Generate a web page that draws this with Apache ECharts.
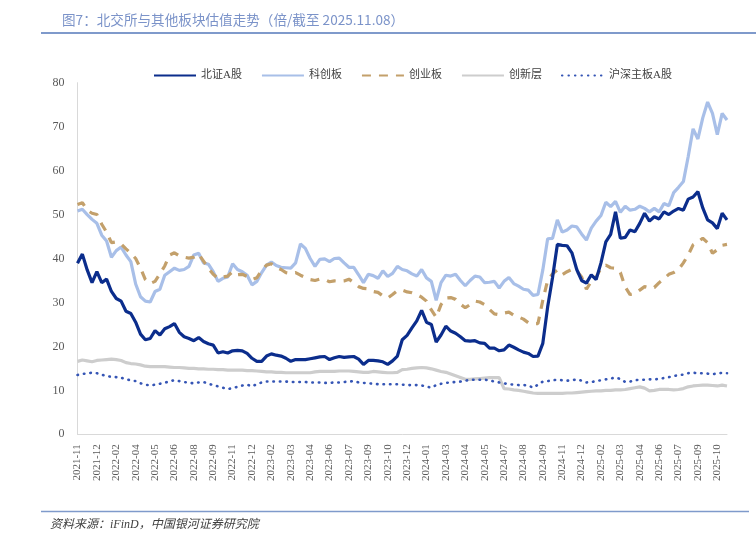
<!DOCTYPE html>
<html>
<head>
<meta charset="utf-8">
<script src="https://cdn.jsdelivr.net/npm/echarts@6/dist/echarts.min.js"></script>
<style>
html,body{margin:0;padding:0;background:#fff;}
#chart{width:756px;height:539px;}
</style>
</head>
<body>
<div id="chart"></div>
<script>
const tickLabels = ['2021-11','2021-12','2022-02','2022-04','2022-05','2022-06','2022-08','2022-09','2022-11','2022-12',
  '2023-02','2023-03','2023-04','2023-06','2023-07','2023-09','2023-10','2023-12','2024-01','2024-03',
  '2024-04','2024-05','2024-07','2024-08','2024-09','2024-11','2024-12','2025-02','2025-03','2025-04',
  '2025-06','2025-07','2025-09','2025-10'];
const stepsPerTick = 4;

const seriesNames = ['北证A股','科创板','创业板','创新层','沪深主板A股'];

const bse = [
38.9, 41.0, 37.4, 34.5, 37.0, 34.5, 35.3, 32.5, 30.9, 30.3,
28.0, 27.5, 25.5, 22.8, 21.5, 21.8, 23.6, 22.6, 24.0, 24.5,
25.2, 23.2, 22.2, 21.8, 21.3, 22.0, 21.1, 20.6, 20.3, 18.5,
18.8, 18.5, 19.0, 19.1, 19.0, 18.4, 17.3, 16.6, 16.6, 17.8,
18.3, 18.0, 17.8, 17.3, 16.6, 17.0, 17.0, 17.0, 17.2, 17.4,
17.6, 17.7, 17.0, 17.4, 17.7, 17.5, 17.6, 17.7, 17.1, 15.9,
16.8, 16.8, 16.7, 16.5, 15.9, 16.7, 17.8, 21.5, 22.5, 24.2,
25.8, 28.2, 25.5, 25.0, 21.0, 22.6, 24.6, 23.5, 23.0, 22.2,
21.3, 21.2, 21.3, 20.8, 20.7, 19.6, 19.6, 19.0, 19.2, 20.3,
19.8, 19.2, 18.7, 18.4, 17.7, 17.8, 20.7, 29.0, 35.6, 43.2,
43.0, 42.9, 41.3, 37.5, 35.0, 34.4, 36.3, 35.2, 39.0, 43.8,
45.5, 50.6, 44.6, 44.8, 46.5, 46.1, 48.0, 50.3, 48.5, 49.5,
49.0, 50.6, 50.0, 50.8, 51.4, 51.0, 53.5, 54.0, 55.2, 51.5,
48.8, 48.1, 46.8, 50.3, 48.8
];

const star = [
50.8, 51.2, 50.0, 48.9, 48.0, 45.3, 44.0, 40.3, 41.8, 42.6,
40.8, 39.3, 34.2, 31.3, 30.3, 30.1, 32.5, 33.0, 36.2, 37.0,
37.8, 37.3, 37.5, 38.2, 40.8, 41.2, 39.0, 38.7, 37.0, 34.8,
35.5, 35.8, 38.8, 37.5, 37.0, 36.2, 34.0, 34.8, 36.8, 38.5,
39.2, 38.4, 38.0, 37.9, 37.8, 39.0, 43.3, 42.3, 40.0, 38.2,
39.8, 39.9, 39.3, 40.0, 40.1, 39.0, 38.0, 38.0, 36.3, 34.5,
36.4, 36.1, 35.5, 37.2, 35.9, 36.6, 38.2, 37.5, 37.2, 36.5,
36.0, 37.5, 35.6, 34.8, 30.5, 34.5, 36.2, 36.0, 36.4, 35.0,
33.8, 35.0, 36.0, 35.8, 34.5, 34.6, 34.8, 33.3, 34.8, 35.7,
34.3, 33.7, 33.0, 32.8, 31.6, 31.8, 37.4, 44.5, 44.6, 48.8,
46.0, 46.5, 47.4, 47.2, 45.6, 44.2, 46.9, 48.5, 49.8, 52.8,
51.8, 53.0, 50.5, 51.9, 51.0, 51.2, 51.9, 51.4, 50.6, 51.4,
50.6, 52.5, 52.0, 55.0, 56.2, 57.5, 63.2, 69.5, 67.2, 72.0,
75.6, 73.0, 68.2, 73.0, 71.5
];

const gem = [
52.3, 52.7, 51.0, 50.3, 50.0, 47.8, 46.0, 43.6, 43.8, 43.3,
42.2, 41.2, 40.0, 37.8, 35.2, 34.3, 34.8, 36.5, 38.3, 40.8,
41.3, 40.6, 40.3, 40.1, 40.3, 41.0, 39.4, 37.8, 36.4, 35.5,
35.8, 36.0, 37.0, 36.3, 36.4, 35.9, 35.2, 35.6, 37.3, 38.5,
38.8, 38.0, 37.5, 36.8, 36.6, 36.8, 36.2, 35.7, 35.2, 35.0,
35.3, 35.2, 34.7, 34.9, 34.8, 34.9, 35.3, 34.5, 33.6, 33.2,
33.1, 32.5, 32.3, 31.5, 31.0, 31.8, 32.7, 32.8, 32.4, 32.2,
31.8, 31.2, 30.3, 28.3, 26.6, 29.5, 31.0, 31.1, 30.7, 29.6,
28.8, 29.5, 30.3, 30.1, 29.5, 28.4, 27.4, 27.2, 27.6, 27.8,
27.1, 26.7, 26.2, 25.4, 25.2, 25.2, 30.5, 35.0, 36.5, 37.4,
36.3, 37.0, 37.5, 37.2, 35.8, 33.0, 34.8, 35.8, 37.8, 38.5,
37.9, 37.8, 36.8, 33.5, 31.8, 32.0, 32.8, 33.6, 33.3, 33.4,
34.5, 35.4, 36.4, 36.8, 37.5, 39.0, 40.8, 43.1, 43.8, 44.6,
43.6, 41.2, 42.0, 43.0, 43.2
];

const neeq = [
16.6, 16.9, 16.7, 16.5, 16.8, 16.9, 17.0, 17.1, 17.0, 16.8,
16.3, 16.1, 16.0, 15.8, 15.5, 15.4, 15.4, 15.4, 15.4, 15.3,
15.2, 15.2, 15.1, 15.0, 15.0, 14.9, 14.9, 14.8, 14.8, 14.7,
14.7, 14.6, 14.6, 14.6, 14.6, 14.5, 14.5, 14.4, 14.3, 14.2,
14.2, 14.1, 14.1, 14.0, 14.0, 14.0, 14.0, 14.0, 14.0, 14.2,
14.3, 14.3, 14.3, 14.3, 14.4, 14.4, 14.4, 14.3, 14.2, 14.1,
14.1, 14.3, 14.2, 14.1, 14.0, 14.0, 14.1, 14.7, 14.8, 15.0,
15.1, 15.2, 15.1, 14.9, 14.6, 14.3, 14.1, 13.7, 13.3, 12.9,
12.5, 12.5, 12.6, 12.7, 12.8, 12.9, 12.9, 12.9, 10.4, 10.3,
10.1, 10.0, 9.8, 9.6, 9.4, 9.3, 9.3, 9.3, 9.3, 9.3,
9.3, 9.4, 9.4, 9.5, 9.6, 9.7, 9.8, 9.9, 9.9, 10.0,
10.0, 10.1, 10.1, 10.2, 10.4, 10.6, 10.8, 10.5, 9.9, 10.0,
10.2, 10.2, 10.2, 10.1, 10.2, 10.4, 10.8, 11.0, 11.1, 11.2,
11.2, 11.1, 11.0, 11.2, 11.0
];

const mainBoard = [
13.5, 13.7, 13.9, 14.0, 13.9, 13.6, 13.2, 13.1, 13.0, 12.9,
12.5, 12.3, 12.1, 11.6, 11.3, 11.1, 11.3, 11.5, 11.7, 12.1,
12.3, 12.1, 11.9, 11.7, 11.6, 11.8, 11.9, 11.5, 11.2, 10.9,
10.6, 10.3, 10.5, 10.8, 11.1, 11.3, 10.9, 11.4, 11.8, 12.0,
12.0, 12.0, 12.0, 12.0, 11.9, 11.9, 11.9, 11.9, 11.8, 11.8,
11.8, 11.7, 11.7, 11.8, 11.8, 11.9, 12.0, 12.1, 11.8, 11.7,
11.6, 11.5, 11.4, 11.4, 11.4, 11.4, 11.4, 11.3, 11.2, 11.2,
11.2, 11.1, 10.9, 10.6, 11.2, 11.5, 11.7, 11.8, 11.9, 12.0,
12.2, 12.4, 12.4, 12.4, 12.4, 12.3, 12.0, 11.8, 11.6, 11.4,
11.3, 11.2, 11.2, 11.1, 10.6, 11.3, 12.0, 12.1, 12.3, 12.4,
12.3, 12.2, 12.3, 12.5, 12.2, 11.8, 11.9, 12.1, 12.3, 12.5,
12.7, 12.9, 12.6, 11.9, 12.0, 12.3, 12.4, 12.4, 12.5, 12.5,
12.6, 12.8, 13.0, 13.3, 13.4, 13.6, 13.9, 14.0, 13.9, 13.9,
13.8, 13.7, 13.8, 14.0, 13.9
];

// category list built from the tick labels: each tick followed by sub-steps
const categories = bse.map((_, i) => tickLabels[Math.min(Math.floor(i / stepsPerTick), tickLabels.length - 1)] + '|' + (i % stepsPerTick));

const serifFont = "'Liberation Serif','Noto Sans CJK SC',serif";

const chart = echarts.init(document.getElementById('chart'), null, {renderer: 'canvas'});
chart.setOption({
  animation: false,
  backgroundColor: '#ffffff',
  grid: {left: 77.5, right: 29, top: 82.7, bottom: 104.7, containLabel: false, outerBoundsMode: 'none'},
  legend: {
    data: seriesNames,
    left: 153, top: 70, padding: 0,
    itemWidth: 42, itemHeight: 12, itemGap: 19,
    textStyle: {fontSize: 11, color: '#404040', fontFamily: serifFont},
    itemStyle: {opacity: 0}
  },
  xAxis: {
    type: 'category',
    data: categories,
    boundaryGap: false,
    axisLine: {show: true, lineStyle: {color: '#d9d9d9', width: 1}},
    axisTick: {show: false},
    splitLine: {show: false},
    axisLabel: {
      interval: stepsPerTick - 1,
      rotate: 90,
      margin: 10,
      fontSize: 11,
      color: '#595959',
      fontFamily: serifFont,
      formatter: v => v.split('|')[0]
    }
  },
  yAxis: {
    type: 'value',
    min: 0, max: 80, interval: 10,
    axisLine: {show: true, lineStyle: {color: '#d9d9d9', width: 1}},
    axisTick: {show: false},
    splitLine: {show: false},
    axisLabel: {fontSize: 12, color: '#595959', margin: 13, fontFamily: serifFont}
  },
  series: [
    {name: seriesNames[0], type: 'line', data: bse, symbol: 'none', z: 5,
     lineStyle: {color: '#0b2d8c', width: 3.2}, itemStyle: {color: '#0b2d8c'}},
    {name: seriesNames[1], type: 'line', data: star, symbol: 'none', z: 4,
     lineStyle: {color: '#a8bfe8', width: 3.2}, itemStyle: {color: '#a8bfe8'}},
    {name: seriesNames[2], type: 'line', data: gem, symbol: 'none', z: 4,
     lineStyle: {color: '#c3a06b', width: 3.2, type: [9, 8]}, itemStyle: {color: '#c3a06b'}},
    {name: seriesNames[3], type: 'line', data: neeq, symbol: 'none', z: 3,
     lineStyle: {color: '#cdcdcd', width: 3.2}, itemStyle: {color: '#cdcdcd'}},
    {name: seriesNames[4], type: 'line', data: mainBoard, symbol: 'none', z: 3,
     lineStyle: {color: '#3555b5', width: 2.6, type: [0.5, 6], cap: 'round'}, itemStyle: {color: '#3555b5'}}
  ],
  graphic: [
    {type: 'text', left: 62, top: 13,
     style: {text: '图7：北交所与其他板块估值走势（倍/截至 2025.11.08）', fontSize: 13.6, fill: '#7b93c9', fontFamily: "'Noto Sans CJK SC',sans-serif"}},
    {type: 'line', shape: {x1: 41, y1: 33, x2: 756, y2: 33}, style: {stroke: '#7f9acb', lineWidth: 2}},
    {type: 'line', shape: {x1: 41, y1: 511.5, x2: 749, y2: 511.5}, style: {stroke: '#7f9acb', lineWidth: 1.5}},
    {type: 'text', left: 50, top: 519,
     style: {text: '资料来源：iFinD，中国银河证券研究院', fontSize: 12, fontStyle: 'italic', fill: '#404040', fontFamily: "'Liberation Serif','Noto Sans CJK SC',serif"}}
  ]
});
</script>
</body>
</html>
